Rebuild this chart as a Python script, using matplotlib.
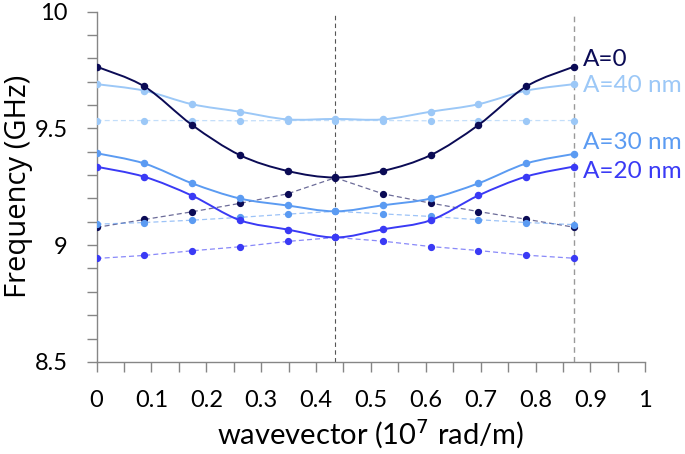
import numpy as np
import matplotlib
matplotlib.use('Agg')
import matplotlib.pyplot as plt
from matplotlib.path import Path
from matplotlib.patches import PathPatch

plt.rcParams['font.family'] = ['Lato', 'DejaVu Sans']

# wavevector sample points (10^7 rad/m)
k = [0.0, 0.087, 0.174, 0.261, 0.348, 0.435, 0.522, 0.609, 0.696, 0.783, 0.87]

# frequencies (GHz), solid = upper band, dashed = folded band
a0_solid = [9.765, 9.68, 9.515, 9.386, 9.318, 9.29, 9.318, 9.386, 9.515, 9.68, 9.765]
a0_dash = [9.076, 9.11, 9.143, 9.179, 9.22, 9.289, 9.22, 9.18, 9.144, 9.111, 9.077]
a40_solid = [9.69, 9.662, 9.604, 9.572, 9.539, 9.541, 9.539, 9.572, 9.604, 9.662, 9.69]
a40_dash = [9.534, 9.534, 9.534, 9.533, 9.534, 9.534, 9.534, 9.533, 9.534, 9.534, 9.534]
a30_solid = [9.394, 9.35, 9.265, 9.20, 9.17, 9.145, 9.171, 9.20, 9.265, 9.35, 9.391]
a30_dash = [9.09, 9.097, 9.107, 9.119, 9.133, 9.145, 9.134, 9.123, 9.109, 9.097, 9.088]
a20_solid = [9.336, 9.293, 9.212, 9.107, 9.067, 9.033, 9.068, 9.107, 9.213, 9.294, 9.337]
a20_dash = [8.943, 8.956, 8.976, 8.993, 9.016, 9.033, 9.017, 8.994, 8.977, 8.957, 8.944]

labels = ['A=0', 'A=40 nm', 'A=30 nm', 'A=20 nm']
colors = ['#0b0b55', '#9cc8f7', '#5b9bf2', '#3a3af5']
label_y = [9.795, 9.685, 9.44, 9.315]

# smooth line like excel (bezier through the points)
def smooth_path(x, y):
    x = np.asarray(x); y = np.asarray(y)
    n = len(x)
    verts = [(x[0], y[0])]
    codes = [Path.MOVETO]
    for i in range(n - 1):
        i0 = max(i - 1, 0); i3 = min(i + 2, n - 1)
        c1 = (x[i] + (x[i+1] - x[i0]) / 6, y[i] + (y[i+1] - y[i0]) / 6)
        c2 = (x[i+1] - (x[i3] - x[i]) / 6, y[i+1] - (y[i3] - y[i]) / 6)
        verts += [c1, c2, (x[i+1], y[i+1])]
        codes += [Path.CURVE4] * 3
    return Path(verts, codes)

fig = plt.figure(figsize=(6.85, 4.54), dpi=100)
ax = fig.add_axes([0.141, 0.203, 0.801, 0.771])

ax.axvline(0.435, color='#555555', lw=0.8, ls=(0, (4, 3)), zorder=1)
ax.axvline(0.87, color='#999999', lw=1.0, ls=(0, (4, 3)), zorder=1)

solids = [a0_solid, a40_solid, a30_solid, a20_solid]
dashes = [a0_dash, a40_dash, a30_dash, a20_dash]

for ys, c in zip(dashes, colors):
    ax.plot(k, ys, color=c, lw=0.9, ls=(0, (4, 2.5)), alpha=0.6, zorder=2)
    ax.plot(k, ys, 'o', color=c, ms=4.2, zorder=3)

for ys, c in zip(solids[::-1], colors[::-1]):
    ax.add_patch(PathPatch(smooth_path(k, ys), fill=False, edgecolor=c, lw=1.4, zorder=4))
    ax.plot(k, ys, 'o', color=c, ms=4.4, zorder=5)

for lab, c, yl in zip(labels, colors, label_y):
    ax.text(0.886, yl, lab, color=c, fontsize=17.5, va='center', ha='left', clip_on=False)

ax.set_xlim(0, 1)
ax.set_ylim(8.5, 10)
ax.set_xticks(np.arange(0, 1.01, 0.1))
ax.set_xticklabels(['0', '0.1', '0.2', '0.3', '0.4', '0.5', '0.6', '0.7', '0.8', '0.9', '1'])
ax.set_xticks(np.arange(0.05, 1.0, 0.1), minor=True)
ax.set_yticks([8.5, 9, 9.5, 10])
ax.set_yticklabels(['8.5', '9', '9.5', '10'])
ax.set_yticks(np.arange(8.6, 10.0, 0.1), minor=True)

for s in ['top', 'right']:
    ax.spines[s].set_visible(False)
for s in ['left', 'bottom']:
    ax.spines[s].set_color('#868686')
    ax.spines[s].set_linewidth(1.0)
ax.tick_params(which='both', direction='out', color='#868686', width=1.0, length=7)
ax.tick_params(axis='x', which='both', labelsize=17, pad=13)
ax.tick_params(axis='y', which='major', labelsize=17, pad=14)
ax.tick_params(axis='y', which='minor', length=7)

plt.xlabel('wavevector (10$^7$ rad/m)', fontsize=21, labelpad=5)
plt.ylabel('Frequency (GHz)', fontsize=21, labelpad=1, family=['Open Sans', 'DejaVu Sans'])

plt.savefig('out.png', dpi=100)
